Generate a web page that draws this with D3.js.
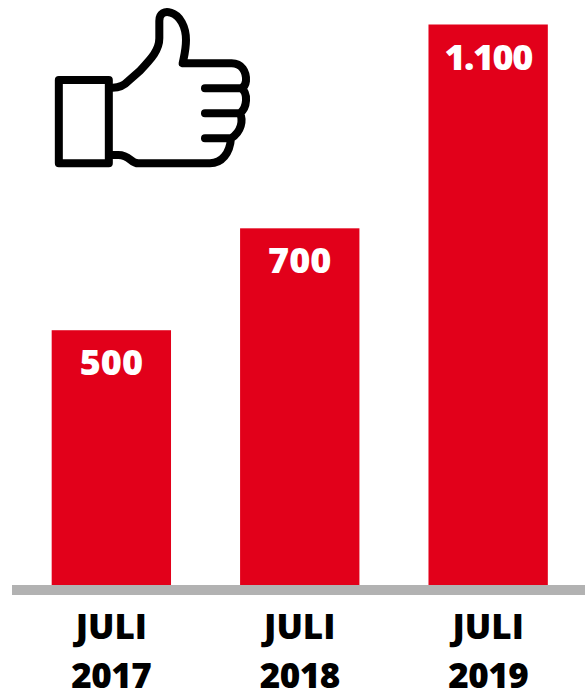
<!DOCTYPE html>
<html>
<head>
<meta charset="utf-8">
<script src="https://cdn.jsdelivr.net/npm/d3@7/dist/d3.min.js"></script>
<style>
  html, body { margin: 0; padding: 0; background: #fff; }
  svg { display: block; }
  text { font-family: "Open Sans", sans-serif; font-weight: 800; }
</style>
</head>
<body>
<svg id="chart" width="585" height="690"></svg>
<script>
const months = ["JULI", "JULI", "JULI"];
const years = ["2017", "2018", "2019"];
const values = [500, 700, 1100];
const valueLabels = ["500", "700", "1.100"];

const svg = d3.select("#chart");
const baseline = 585;

const x = d3.scaleBand()
  .domain(years)
  .range([14, 585.5])
  .paddingInner(0.3666)
  .paddingOuter(0.2)
  .align(0.5);

const y = d3.scaleLinear().domain([0, 1100]).range([baseline, 24.5]);

// Bars
svg.append("g").selectAll("rect")
  .data(values)
  .join("rect")
  .attr("x", (d, i) => x(years[i]))
  .attr("y", d => y(d))
  .attr("width", x.bandwidth())
  .attr("height", d => baseline - y(d))
  .attr("fill", "#e2001a");

// Value labels inside the top of each bar
svg.append("g").selectAll("text")
  .data(values)
  .join("text")
  .attr("x", (d, i) => x(years[i]) + x.bandwidth() / 2)
  .attr("y", d => y(d) + 45)
  .attr("text-anchor", "middle")
  .attr("font-size", 36)
  .attr("letter-spacing", (d, i) => i === 2 ? -1.5 : 0)
  .attr("fill", "#fff")
  .text((d, i) => valueLabels[i]);

// Ground line
svg.append("rect")
  .attr("x", 12).attr("y", baseline)
  .attr("width", 573).attr("height", 10)
  .attr("fill", "#b2b2b2");

// Two-line category labels
const cats = svg.append("g").selectAll("g")
  .data(years)
  .join("g")
  .attr("transform", d => `translate(${x(d) + x.bandwidth() / 2},0)`)
  .attr("text-anchor", "middle")
  .attr("font-size", 35)
  .attr("fill", "#000");
cats.append("text").attr("y", 638.5).text((d, i) => months[i]);
cats.append("text").attr("y", 687.5).attr("letter-spacing", -0.5).text(d => d);

// Thumbs-up icon
const icon = svg.append("g")
  .attr("transform", "translate(40,0) scale(0.3333)")
  .attr("fill", "none")
  .attr("stroke", "#000")
  .attr("stroke-width", 24)
  .attr("stroke-linecap", "round")
  .attr("stroke-linejoin", "round");
icon.append("rect")
  .attr("x", 56.5).attr("y", 240)
  .attr("width", 150).attr("height", 250);
icon.append("path").attr("d",
  "M218 263 C240 263 252 257 265 243 L300 212 C335 175 358 150 358 115 L358 62 " +
  "C358 40 375 32 392 38 C420 46 438 80 438 120 C438 150 432 170 428 190 L575 190 " +
  "C605 190 620 215 618 243 C617 253 612 261 604 265 L495 265 " +
  "M604 265 C625 280 622 322 600 340 L495 340 " +
  "M600 340 C610 360 605 395 573 415 L495 415 " +
  "M573 415 C570 460 545 490 510 490 L295 490 C272 490 270 465 235 465 L218 465");
</script>
</body>
</html>
